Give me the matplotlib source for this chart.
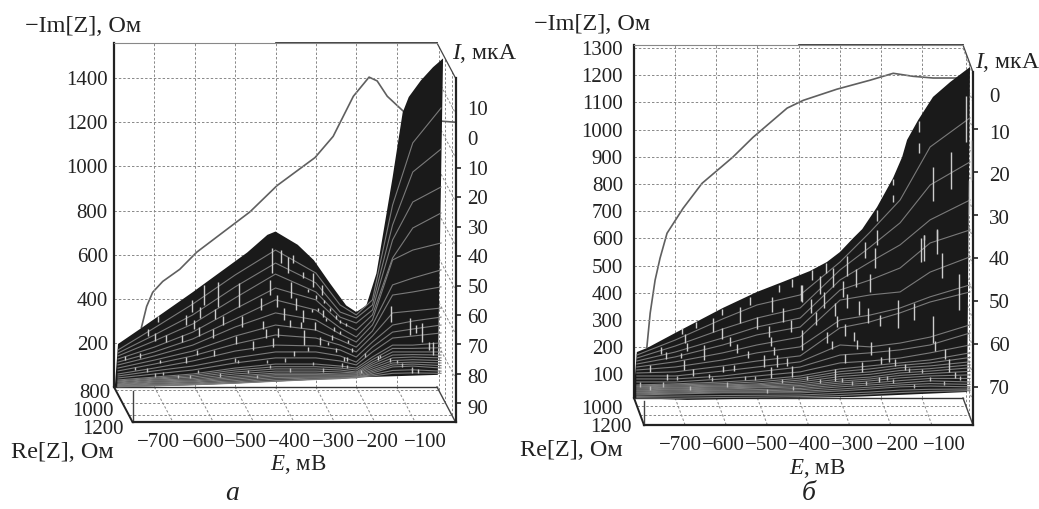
import numpy as np
import matplotlib
matplotlib.use('Agg')
import matplotlib.pyplot as plt
from matplotlib.lines import Line2D
from matplotlib.transforms import IdentityTransform, ScaledTranslation

W, H = 1039, 509
plt.rcParams['font.family'] = ['Liberation Serif', 'DejaVu Serif']
plt.rcParams['mathtext.fontset'] = 'custom'
plt.rcParams['mathtext.it'] = 'Liberation Serif:italic'
plt.rcParams['mathtext.rm'] = 'Liberation Serif'

E_TICKS = [-700, -600, -500, -400, -300, -200, -100]
E_LABELS = ['\u2212700', '\u2212600', '\u2212500', '\u2212400', '\u2212300', '\u2212200', '\u2212100']

# panel a
A_IM_TICKS = [200, 400, 600, 800, 1000, 1200, 1400]
A_I_TICKS = [10, 0, -10, -20, -30, -40, -50, -60, -70, -80, -90]
A_RE_TICKS = [800, 1000, 1200]

A_CURVE_E = [-778, -765, -750, -725, -683, -641, -509, -442, -348, -303, -253, -214, -194, -169, -129, -87, -50, -30, 0]
A_CURVE_I = [-64.3, -57.1, -52.3, -48.6, -44.5, -38.7, -25, -16.1, -6.6, 0.6, 14.2, 20.7, 19.4, 14.2, 9.1, 7.4, 6, 5.7, 5.4]

A_TOP_E = [-790, -730, -605, -470, -420, -400, -345, -305, -265, -225, -200, -175, -150, -110, -85, -70, -40, -10, 15]
A_TOP_IM = [195, 270, 430, 610, 690, 705, 645, 575, 470, 370, 340, 370, 515, 950, 1245, 1315, 1390, 1450, 1490]
A_BOTTOM_E = [-798, -587, -396, -173, 2]
A_BOTTOM_IM = [0, 10, 25, 45, 55]

A_GRID_E = [-790, -700, -605, -500, -400, -300, -240, -200, -160, -110, -60, 10]
A_CONTOURS = [
    [168, 268, 376, 508, 621, 517, 372, 327, 395, 825, 1107, 1265],
    [154, 236, 327, 454, 562, 472, 340, 313, 372, 735, 975, 1079],
    [141, 209, 286, 404, 512, 431, 317, 290, 349, 667, 839, 907],
    [127, 181, 249, 354, 449, 395, 295, 258, 327, 585, 721, 789],
    [113, 159, 218, 308, 395, 349, 268, 227, 304, 576, 621, 653],
    [100, 141, 190, 272, 336, 304, 240, 204, 281, 463, 494, 531],
    [86, 122, 163, 231, 281, 258, 213, 181, 254, 417, 431, 454],
    [73, 104, 141, 195, 236, 222, 190, 159, 231, 336, 345, 358],
    [59, 86, 118, 163, 190, 186, 168, 136, 204, 281, 299, 317],
    [50, 73, 95, 132, 159, 159, 141, 113, 181, 249, 263, 281],
    [41, 59, 77, 109, 132, 132, 118, 100, 159, 222, 231, 245],
    [32, 45, 59, 86, 104, 104, 95, 86, 136, 190, 190, 200],
    [27, 40, 52, 77, 92, 92, 86, 77, 124, 175, 175, 178],
    [23, 36, 45, 68, 82, 82, 77, 68, 113, 159, 159, 159],
    [18, 31, 38, 59, 72, 72, 68, 63, 104, 145, 147, 145],
    [14, 27, 32, 50, 63, 63, 59, 59, 95, 132, 136, 132],
    [11, 22, 27, 43, 56, 56, 54, 54, 86, 120, 124, 120],
    [9, 18, 23, 36, 50, 50, 50, 50, 77, 109, 113, 109],
    [7, 13, 18, 29, 43, 45, 45, 45, 70, 100, 104, 97],
    [5, 9, 14, 23, 36, 41, 41, 41, 63, 91, 95, 86],
    [2, 6, 11, 18, 29, 36, 38, 46, 56, 75, 78, 72],
    [1, 5, 10, 17, 26, 34, 39, 45, 50, 62, 64, 62],
]

A_STREAK_E = [-608, -587, -551, -529, -484, -622, -603, -589, -554, -498, -632, -671, -698, -717, -690, -576, -542, -490,
              -414, -437, -397, -380, -430, -423, -393, -405, -456, -552, -595, -622, -686, -736, -773, -408, -387, -368,
              -114, -68, -52, -38, -20, -9, -145, -63, -46, -348, -362, -331, -356, -306, -286, -282, -331, -364, -338,
              -302, -261, -290, -330, -319, -354, -224, -320, -300, -280, -265, -250, -240, -225, -310, -295, -275, -255,
              -240, -270, -250, -220, -210, -230]
A_STREAK_LO = [342, 311, 307, 280, 274, 281, 261, 231, 221, 195, 205, 205, 210, 231, 296, 372, 364, 364,
               417, 349, 364, 304, 261, 221, 225, 183, 168, 140, 144, 110, 107, 130, 122, 515, 561, 515,
               296, 236, 243, 205, 168, 145, 122, 62, 62, 349, 402, 493, 561, 455, 417, 319, 296, 273, 266,
               258, 213, 190, 190, 165, 140, 119, 430, 400, 380, 345, 310, 290, 275, 340, 345, 300, 255,
               240, 190, 160, 200, 160, 120]
A_STREAK_HI = [394, 361, 352, 323, 322, 326, 304, 273, 261, 231, 236, 236, 243, 261, 322, 463, 478, 470,
               485, 402, 417, 357, 301, 261, 266, 221, 210, 168, 168, 137, 122, 153, 140, 629, 621, 591,
               367, 311, 281, 289, 205, 205, 140, 80, 80, 402, 478, 523, 599, 515, 463, 349, 349, 304, 296,
               296, 236, 228, 258, 183, 165, 137, 445, 415, 395, 360, 325, 305, 290, 355, 360, 315, 270,
               255, 205, 175, 215, 175, 135]
# short flecks in the low, dense band
A_FLECK_E = [-748, -719, -698, -678, -641, -612, -591, -537, -500, -492, -467, -447, -422, -414, -376,
             -364, -306, -282, -236, -224, -178, -141, -100, -116, -87, -63, -187]
A_FLECK_IM = [77, 69, 47, 54, 39, 39, 62, 47, 115, 107, 62, 39, 107, 85, 115,
              69, 100, 69, 92, 85, 137, 130, 107, 115, 92, 77, 62]

# panel b
B_IM_TICKS = [100, 200, 300, 400, 500, 600, 700, 800, 900, 1000, 1100, 1200, 1300]
B_I_TICKS = [0, -10, -20, -30, -40, -50, -60, -70]
B_RE_TICKS = [1000, 1200]

B_CURVE_E = [-793, -785, -773, -761, -744, -705, -659, -584, -535, -452, -413, -331, -250, -194, -146, -97, -39]
B_CURVE_I = [-60.7, -52.8, -45.1, -40, -34.2, -28.4, -22.6, -16.5, -11.9, -5.1, -3.3, -0.7, 1.4, 3.0, 2.3, 1.9, 1.9]

B_TOP_E = [-793, -768, -700, -584, -501, -438, -372, -331, -299, -267, -245, -209, -170, -148, -136, -109, -73, -31, 17]
B_TOP_IM = [182, 197, 252, 344, 403, 440, 480, 513, 550, 601, 634, 715, 822, 899, 962, 1035, 1120, 1175, 1230]
B_BOTTOM_E = [-802, -671, -428, -267, 10]
B_BOTTOM_IM = [13, 6, 13, 17, 35]

B_GRID_E = [-793, -700, -584, -501, -396, -299, -226, -153, -80, 17]
B_CONTOURS = [
    [171, 226, 304, 355, 392, 513, 623, 741, 936, 1043],
    [160, 204, 267, 307, 344, 484, 568, 657, 796, 881],
    [149, 182, 234, 274, 307, 447, 513, 576, 668, 741],
    [138, 164, 208, 245, 274, 410, 447, 491, 583, 631],
    [127, 146, 179, 208, 237, 373, 392, 403, 476, 532],
    [116, 127, 153, 179, 201, 300, 318, 344, 385, 429],
    [105, 109, 131, 149, 168, 271, 293, 326, 366, 403],
    [94, 94, 112, 127, 146, 208, 201, 215, 237, 282],
    [83, 83, 94, 109, 127, 171, 179, 190, 208, 252],
    [72, 72, 83, 94, 109, 142, 149, 160, 179, 208],
    [61, 65, 72, 79, 94, 120, 131, 142, 153, 179],
    [57, 61, 66, 72, 86, 110, 120, 133, 142, 162],
    [54, 57, 61, 65, 79, 101, 109, 124, 131, 146],
    [50, 53, 57, 61, 72, 92, 100, 114, 121, 135],
    [46, 50, 54, 57, 65, 83, 90, 105, 112, 124],
    [42, 46, 50, 53, 59, 75, 83, 96, 103, 111],
    [39, 43, 46, 50, 54, 68, 76, 87, 94, 98],
    [35, 39, 42, 44, 48, 61, 68, 77, 85, 85],
    [32, 35, 39, 39, 43, 54, 61, 68, 76, 72],
    [28, 31, 35, 35, 37, 46, 53, 61, 66, 63],
    [24, 28, 32, 32, 32, 39, 46, 54, 57, 54],
    [19, 20, 22, 23, 24, 30, 35, 42, 45, 46],
    [14, 12, 15, 16, 18, 22, 27, 33, 37, 40],
]

B_STREAK_E = [-518, -447, -415, -392, -465, -542, -585, -607, -650, -683, -675, -670, -585, -567, -630, -549, -502, -437,
              -419, -471, -392, -468, -524, -483, -459, -452, -427, -722, -735, -686, -679, -760, -656, -719, -583, -557,
              -468, -417, -617,
              -63, -96, -102, -51, -10, -119, -157, -74, -68, -43, -33, -201, -230, -252, -226, -214, -238, -208, -260,
              -282, -292, -281, -312, -307, -347, -338, -370, -358, -316, -333, -366, -393, -286, -265, -331, -258, -318,
              -223, -179, -199, -165, -141, -246, -287, -311, -204, -19,
              7, -29, -72, -108, -106, 14, 19, -169, -169, -208, -63, -96]
B_STREAK_LO = [355, 402, 420, 365, 331, 290, 319, 257, 270, 249, 214, 184, 230, 205, 151, 180, 268, 292,
               257, 239, 190, 205, 159, 126, 172, 126, 131, 157, 174, 159, 116, 107, 94, 80, 107, 114,
               86, 92, 86,
               542, 518, 512, 453, 337, 298, 270, 217, 184, 156, 107, 278, 290, 319, 404, 490, 527, 576, 420,
               462, 386, 343, 315, 273, 396, 343, 325, 282, 420, 472, 447, 368, 241, 223, 217, 192, 192,
               172, 147, 139, 132, 116, 107, 141, 74, 70, 88,
               953, 780, 738, 915, 992, 689, 814, 796, 735, 665, 594, 594]
B_STREAK_HI = [386, 429, 450, 429, 386, 347, 341, 306, 294, 270, 249, 217, 270, 239, 208, 212, 310, 343,
               300, 278, 263, 239, 184, 172, 202, 172, 159, 181, 202, 180, 153, 135, 120, 102, 129, 135,
               126, 131, 102,
               631, 613, 600, 545, 469, 364, 374, 315, 221, 192, 156, 319, 343, 371, 469, 564, 588, 631, 486,
               535, 445, 395, 364, 316, 462, 402, 377, 328, 490, 511, 484, 429, 286, 257, 257, 227, 221,
               218, 200, 163, 156, 139, 145, 175, 120, 92, 107,
               1124, 918, 863, 951, 1032, 814, 961, 820, 759, 706, 633, 612]
B_FLECK_E = [-786, -761, -729, -696, -664, -611, -575, -530, -506, -477, -441, -413, -380,
             -347, -295, -270, -236, -185, -169, -132, -100, -80, -47, -7, -120]
B_FLECK_IM = [55, 43, 55, 80, 43, 74, 55, 80, 80, 31, 67, 43, 80,
              67, 70, 61, 61, 80, 67, 110, 104, 74, 61, 80, 49]

BLACK = '#1a1a1a'
GREY = '#7a7a7a'
DASH = (0, (2.5, 2))


def px_axes(fig, left, top, right, bottom):
    return fig.add_axes([left / W, 1 - bottom / H, (right - left) / W, (bottom - top) / H])


def label(fig, x, y, s, ha='left', size=15, **kw):
    fig.text(x / W, 1 - y / H, s, ha=ha, va='center', fontsize=size, color='#222222', **kw)


def shift(text, dx, dy):
    """move a tick label by some pixels (dy positive = down)"""
    off = ScaledTranslation(dx / 100, -dy / 100, text.figure.dpi_scale_trans)
    text.set_transform(text.get_transform() + off)


def draw_panel(fig, box, offset, im_lim, i_lim, re_lim, im_ticks, i_ticks, re_ticks,
               curve, top, bottom, grid_e, contours, streaks, flecks, x_shift, i_shift, pads):
    left, ttop, right, bot = box
    back = px_axes(fig, left, ttop, right, bot)
    front = px_axes(fig, left + offset[0], ttop + offset[1], right + offset[0], bot + offset[1])
    front.set_zorder(1)
    back.set_zorder(2)
    back.patch.set_visible(False)
    front.patch.set_visible(False)

    # back wall
    back.set_xlim(-800, 0)
    back.set_ylim(*im_lim)
    back.set_xticks(E_TICKS)
    back.set_yticks(im_ticks)
    back.tick_params(axis='x', length=0, labelbottom=False)
    back.tick_params(axis='y', length=0, labelsize=15, pad=pads[0], labelcolor='#222222')
    back.grid(True, color='#888888', lw=0.7, ls=DASH)
    back.set_axisbelow(True)
    for s in ['right', 'bottom']:
        back.spines[s].set_visible(False)
    back.spines['top'].set_color('#888888')
    back.spines['top'].set_linewidth(0.8)
    back.spines['left'].set_linewidth(1.6)
    back.spines['left'].set_color('#222222')
    back.plot([-400, 0], [im_lim[1], im_lim[1]], color='#222222', lw=1.2, clip_on=False)

    # surface
    px = np.concatenate([top[0], bottom[0][::-1]])
    py = np.concatenate([top[1], bottom[1][::-1]])
    back.fill(px, py, color=BLACK, lw=0, clip_on=False, zorder=3)
    for c in contours:
        back.plot(grid_e, c, color=GREY, lw=0.8, clip_on=False, zorder=4)
    back.vlines(streaks[0], streaks[1], streaks[2], color='#cccccc', lw=1.0, clip_on=False, zorder=5)
    back.vlines(flecks[0], flecks[1], np.array(flecks[1]) + 15, color='#bbbbbb', lw=1.0, clip_on=False, zorder=5)

    # front: current axis and E labels
    front.set_xlim(-800, 0)
    front.set_ylim(*i_lim)
    front.plot(curve[0], curve[1], color='#5f5f5f', lw=1.2, clip_on=False)
    for s in ['left', 'top']:
        front.spines[s].set_visible(False)
    for s in ['right', 'bottom']:
        front.spines[s].set_linewidth(1.6)
        front.spines[s].set_color('#222222')
    front.yaxis.tick_right()
    front.set_yticks(i_ticks)
    front.set_yticklabels([str(abs(v)) for v in i_ticks])
    front.set_xticks(E_TICKS)
    front.set_xticklabels(E_LABELS)
    front.tick_params(axis='x', length=0, labelsize=15, pad=pads[1], labelcolor='#222222')
    front.tick_params(axis='y', length=3.6, width=1.2, labelsize=15, pad=pads[2], color='#222222', labelcolor='#222222')
    for tick, v, dy in zip(front.yaxis.get_major_ticks(), i_ticks, i_shift):
        if v >= 0:
            tick.tick2line.set_visible(False)
        shift(tick.label2, 0, dy)
    for tick, dx in zip(front.xaxis.get_major_ticks(), x_shift):
        shift(tick.label1, dx, 0)

    # floor and side wall in display coordinates, derived from the two planes
    def project(e, im, re):
        t = (re - re_lim[0]) / (re_lim[1] - re_lim[0])
        p = back.transData.transform((e, im))
        return p + t * np.array([offset[0], -offset[1]])

    def seg(a, b, color='#888888', lw=0.7, ls=DASH):
        fig.add_artist(Line2D([a[0], b[0]], [a[1], b[1]], color=color, lw=lw, ls=ls,
                              transform=IdentityTransform(), zorder=0))

    im0, im1 = im_lim
    re0, re1 = re_lim
    for e in E_TICKS:
        seg(project(e, im0, re0), project(e, im0, re1))
    for re in re_ticks:
        seg(project(-800, im0, re), project(0, im0, re))
        seg(project(0, im0, re), project(0, im1, re))
    for im in im_ticks:
        seg(project(0, im, re0), project(0, im, re1))
    seg(project(-800, im0, re0), project(0, im0, re0), color='#333333', lw=1.0, ls='-')
    seg(project(-800, im0, re0), project(-800, im0, re1), color='#222222', lw=1.4, ls='-')
    seg(project(0, im0, re0), project(0, im0, re1), color='#444444', lw=1.0, ls='-')
    seg(project(0, im1, re0), project(0, im1, re1), color='#444444', lw=0.9, ls='-')
    a = project(-800, im0, re1)
    fig.add_artist(Line2D([a[0], a[0]], [a[1], a[1] + offset[1] * 0.9], color='#444444', lw=1.0,
                          transform=IdentityTransform(), zorder=0))
    return back, front


fig = plt.figure(figsize=(W / 100, H / 100), dpi=100)

draw_panel(fig, (114, 43, 437, 387), (18.5, 35), (0, 1560), (-96.3, 20.4), (750, 1310),
           A_IM_TICKS, A_I_TICKS, A_RE_TICKS,
           (A_CURVE_E, A_CURVE_I), (A_TOP_E, A_TOP_IM), (A_BOTTOM_E, A_BOTTOM_IM),
           A_GRID_E, A_CONTOURS, (A_STREAK_E, A_STREAK_LO, A_STREAK_HI), (A_FLECK_E, A_FLECK_IM),
           [-14, -10, -8, -5, -1, 3, 10], [-1, 0, 0, 0, 0, 0, 0, 1, 2, 2, 4], (4.5, 8, 5))

draw_panel(fig, (634, 45, 963, 398), (10, 27), (13, 1311), (-78.8, 3.3), (818, 1424),
           B_IM_TICKS, B_I_TICKS, B_RE_TICKS,
           (B_CURVE_E, B_CURVE_I), (B_TOP_E, B_TOP_IM), (B_BOTTOM_E, B_BOTTOM_IM),
           B_GRID_E, B_CONTOURS, (B_STREAK_E, B_STREAK_LO, B_STREAK_HI), (B_FLECK_E, B_FLECK_IM),
           [-5, -3, -1, 1, 3, 7, 13], [9, 3, 2, 2, 0, 0, 0, 0], (8, 8, 8))

# panel a labels
label(fig, 25, 26, '\u2212Im[Z], Ом', size=17.5)
label(fig, 452, 53, r'$\mathit{I}$, мкА', size=17)
label(fig, 11, 452, 'Re[Z], Ом', size=17.5)
label(fig, 270, 465, r'$\mathit{E}$, мВ', size=16.5)
label(fig, 110, 393, '800', ha='right')
label(fig, 114, 412, '1000', ha='right')
label(fig, 124, 430, '1200', ha='right')
label(fig, 232, 494, 'а', ha='center', size=20, style='italic')

# panel b labels
label(fig, 534, 25, '\u2212Im[Z], Ом', size=17.5)
label(fig, 975, 62, r'$\mathit{I}$, мкА', size=17)
label(fig, 520, 451, 'Re[Z], Ом', size=17.5)
label(fig, 789, 469, r'$\mathit{E}$, мВ', size=16.5)
label(fig, 623, 409, '1000', ha='right')
label(fig, 632, 427, '1200', ha='right')
label(fig, 809, 494, 'б', ha='center', size=20, style='italic')

fig.savefig('out.png', dpi=100)
